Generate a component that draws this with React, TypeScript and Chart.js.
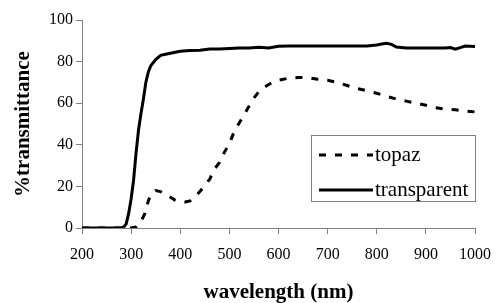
import React, { useEffect, useRef } from "react";
import { Chart, registerables } from "chart.js";

Chart.register(...registerables);

// ---- data ----
const seriesLabels = ["topaz", "transparent"];

const topazWavelengths = [
  200, 300, 310, 320, 328, 335, 340, 350, 360, 370, 380, 390, 400, 410, 420, 430,
  440, 450, 460, 470, 480, 490, 500, 510, 520, 530, 540, 550, 560, 570, 580, 590,
  600, 620, 640, 660, 680, 700, 720, 740, 760, 780, 800, 820, 840, 860, 880, 900,
  920, 940, 960, 980, 1000,
];
const topazValues = [
  0, 0, 0.5, 3, 7, 13, 16, 18, 17.5, 16.3, 14.8, 13.3, 12.7, 12.5, 13, 15,
  17.5, 20.5, 23.5, 28.5, 31.5, 36.5, 40.5, 46.5, 50.5, 54.5, 58.5, 62.5, 65.5, 67.5, 69, 70.2,
  71, 72, 72.3, 72.3, 71.5, 71, 70, 68.5, 67, 66, 64.8, 63.3, 62, 61, 60, 59,
  57.8, 57.2, 56.8, 56.3, 55.8,
];

const transparentWavelengths = [
  200, 250, 280, 285, 290, 295, 300, 305, 310, 315, 320, 325, 330, 335, 340, 350,
  360, 370, 380, 390, 400, 420, 440, 460, 480, 500, 520, 540, 560, 580, 600, 620,
  640, 660, 680, 700, 720, 740, 760, 780, 800, 810, 820, 830, 840, 860, 880, 900,
  920, 940, 950, 960, 970, 980, 1000,
];
const transparentValues = [
  0, 0, 0, 0.5, 2, 7, 14, 23, 36, 47, 55, 62, 70, 75, 78, 81,
  83, 83.5, 84, 84.5, 85, 85.3, 85.5, 86, 86, 86.3, 86.5, 86.5, 86.9, 86.5, 87.4, 87.5,
  87.5, 87.5, 87.5, 87.5, 87.5, 87.5, 87.5, 87.5, 88, 88.5, 88.8, 88.3, 87, 86.5, 86.5, 86.5,
  86.5, 86.5, 86.8, 86, 86.7, 87.5, 87.3,
];

const xTickValues = [200, 300, 400, 500, 600, 700, 800, 900, 1000];
const yTickValues = [0, 20, 40, 60, 80, 100];

const xTitle = "wavelength (nm)";
const yTitle = "%transmittance";

const SERIF = "'Liberation Serif', 'Times New Roman', serif";

const toPoints = (xs: number[], ys: number[]) => xs.map((x, i) => ({ x, y: ys[i] }));

const boxLegend = {
  id: "boxLegend",
  afterDraw(chart: any) {
    const ctx = chart.ctx as CanvasRenderingContext2D;
    const bx = 311.5, by = 135.5, bw = 164, bh = 66;
    ctx.save();
    ctx.fillStyle = "#ffffff";
    ctx.fillRect(bx, by, bw, bh);
    ctx.strokeStyle = "#808080";
    ctx.lineWidth = 1;
    ctx.strokeRect(bx, by, bw, bh);
    const rows = [155, 190];
    chart.data.datasets.forEach((ds: any, i: number) => {
      const cy = rows[i];
      ctx.beginPath();
      ctx.strokeStyle = ds.borderColor;
      ctx.lineWidth = ds.borderWidth;
      ctx.lineCap = "butt";
      ctx.setLineDash(ds.borderDash || []);
      ctx.moveTo(319, cy);
      ctx.lineTo(373, cy);
      ctx.stroke();
      ctx.setLineDash([]);
      ctx.fillStyle = "#000";
      ctx.font = `21px ${SERIF}`;
      ctx.textAlign = "left";
      ctx.textBaseline = "middle";
      ctx.fillText(ds.label, 375, cy);
    });
    ctx.restore();
  },
};

export default function App() {
  const ref = useRef<HTMLCanvasElement | null>(null);

  useEffect(() => {
    if (!ref.current) return;
    const chart = new Chart(ref.current, {
      type: "line",
      data: {
        datasets: [
          {
            label: seriesLabels[0],
            data: toPoints(topazWavelengths, topazValues),
            borderColor: "#000000",
            borderWidth: 3,
            borderDash: [7, 9],
            pointRadius: 0,
            tension: 0,
            fill: false,
            order: 1,
          },
          {
            label: seriesLabels[1],
            data: toPoints(transparentWavelengths, transparentValues),
            borderColor: "#000000",
            borderWidth: 3,
            pointRadius: 0,
            tension: 0,
            fill: false,
            order: 0,
          },
        ],
      },
      options: {
        animation: false,
        responsive: false,
        layout: { padding: { left: 0, right: 20, top: 20, bottom: 0 } },
        plugins: { legend: { display: false }, tooltip: { enabled: false } },
        scales: {
          x: {
            type: "linear",
            min: xTickValues[0],
            max: xTickValues[xTickValues.length - 1],
            afterBuildTicks: (s: any) => {
              s.ticks = xTickValues.map((v) => ({ value: v }));
            },
            afterFit: (s: any) => {
              s.height = 75;
            },
            ticks: {
              color: "#000",
              font: { family: SERIF, size: 16 },
              padding: 11,
              maxRotation: 0,
              callback: (v: any) => String(v),
            },
            grid: {
              drawOnChartArea: false,
              drawTicks: true,
              tickLength: 6,
              color: "#808080",
            },
            border: { display: true, color: "#808080" },
            title: {
              display: true,
              text: xTitle,
              color: "#000",
              font: { family: SERIF, size: 21, weight: "bold" },
              padding: { top: 0, bottom: -2 },
            },
          },
          y: {
            type: "linear",
            min: 0,
            max: 100,
            afterBuildTicks: (s: any) => {
              s.ticks = yTickValues.map((v) => ({ value: v }));
            },
            afterFit: (s: any) => {
              s.width = 82;
            },
            ticks: {
              color: "#000",
              font: { family: SERIF, size: 16 },
              padding: 3,
              callback: (v: any) => String(v),
            },
            grid: {
              drawOnChartArea: false,
              drawTicks: true,
              tickLength: 6,
              color: "#808080",
            },
            border: { display: true, color: "#808080" },
            title: {
              display: true,
              text: yTitle,
              color: "#000",
              font: { family: SERIF, size: 21, weight: "bold" },
              padding: { top: 11, bottom: 0 },
            },
          },
        },
      },
      plugins: [boxLegend],
    } as any);
    return () => chart.destroy();
  }, []);

  return (
    <div style={{ position: "fixed", left: 0, top: 0, width: 502, height: 303, background: "#fff" }}>
      <canvas ref={ref} width={502} height={303} style={{ display: "block" }} />
    </div>
  );
}
